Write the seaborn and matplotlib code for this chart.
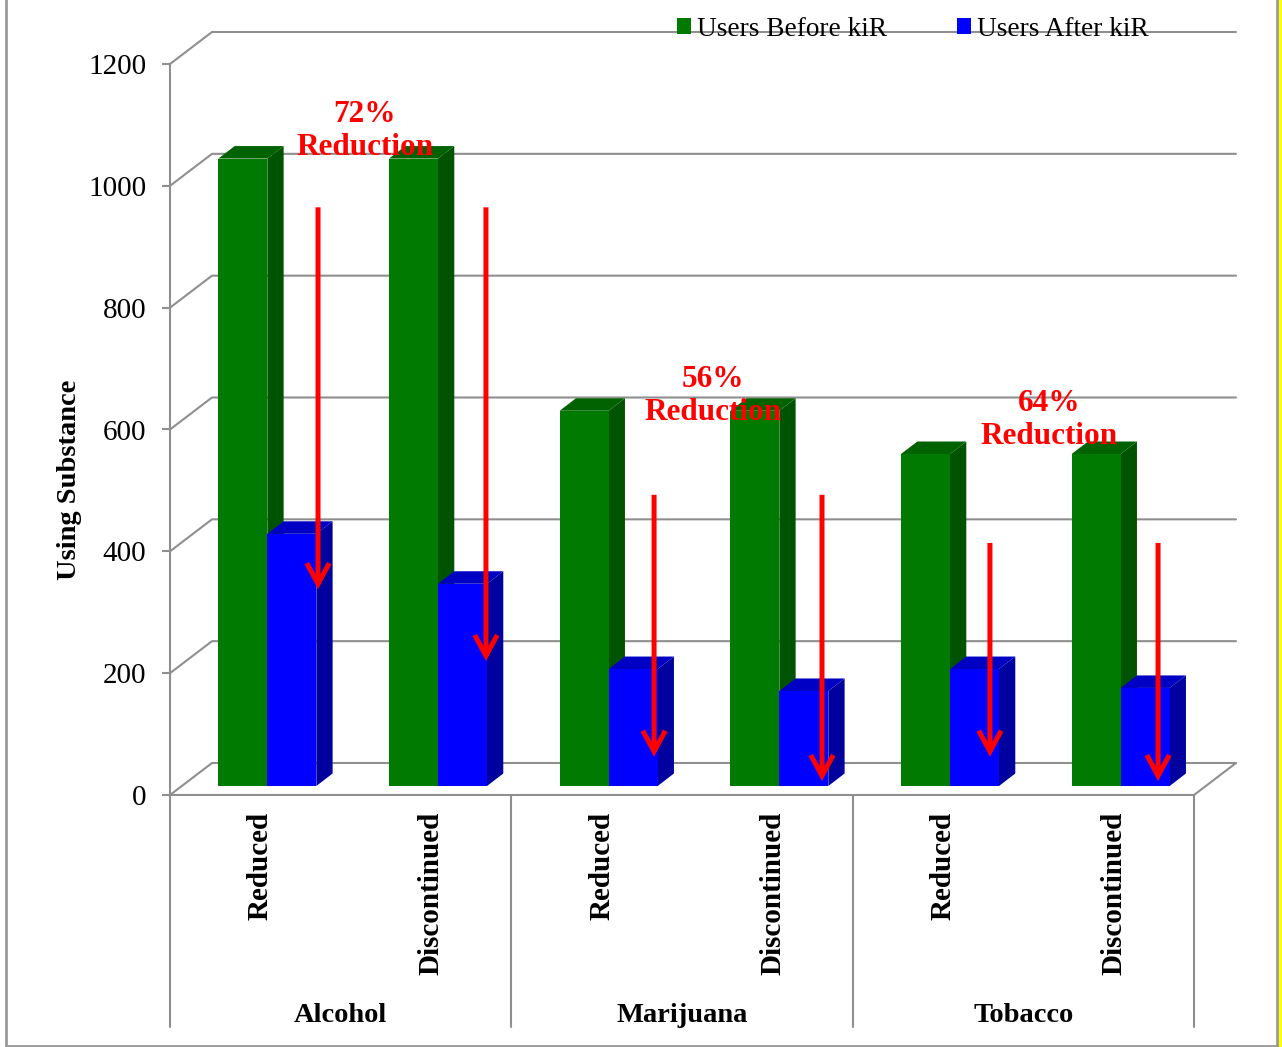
import pandas as pd
import matplotlib.pyplot as plt
import seaborn as sns
from matplotlib.lines import Line2D
from matplotlib.patches import Polygon, Rectangle

# values
substances = ['Alcohol', 'Marijuana', 'Tobacco']
outcomes = ['Reduced', 'Discontinued', 'Reduced', 'Discontinued', 'Reduced', 'Discontinued']
users_before = [1030, 1030, 616, 616, 545, 545]
users_after = [414, 332, 192, 156, 192, 161]
y_ticks = [0, 200, 400, 600, 800, 1000, 1200]

# red arrows and their labels
arrow_x = [0.297, 1.281, 2.266, 3.25, 4.234, 5.219]
arrow_start = [950, 950, 478, 478, 399, 399]
arrow_end = [323, 205, 48, 8, 48, 8]
note_text = ['72%\nReduction', '56%\nReduction', '64%\nReduction']
note_x = [0.572, 2.611, 4.58]
note_y = [1075, 640, 601]

W, H = 1282, 1047
GRID = '#8f8f8f'
SERIF = 'Liberation Serif'

sns.set_style('white')
plt.rcParams['font.family'] = SERIF
plt.rcParams['text.color'] = 'black'
plt.rcParams['axes.labelcolor'] = 'black'
plt.rcParams['xtick.labelcolor'] = 'black'
plt.rcParams['ytick.labelcolor'] = 'black'


def px_axes(left, top, right, bottom):
    return fig.add_axes([left / W, 1 - bottom / H, (right - left) / W, (bottom - top) / H])


keys = [f'{i} {o}' for i, o in enumerate(outcomes)]
df = pd.DataFrame({
    'key': keys * 2,
    'users': users_before + users_after,
    'series': ['Users Before kiR'] * 6 + ['Users After kiR'] * 6,
})

fig = plt.figure(figsize=(W / 100, H / 100), dpi=100)

# 1. wall and floor of the fake 3D box
ax = px_axes(170, 64, 1194, 795)
ax.set_xlim(-0.5, 5.5)
ax.set_ylim(0, 1200)
ax.patch.set_alpha(0)
for s in ['top', 'right']:
    ax.spines[s].set_visible(False)
for s in ['left', 'bottom']:
    ax.spines[s].set_color(GRID)
    ax.spines[s].set_linewidth(1.5)

deep_x = 42 / (1024 / 6)
deep_y = 32 / (731 / 1200)
for t in y_ticks:
    ax.plot([-0.5, -0.5 + deep_x, 5.5 + deep_x], [t, t + deep_y, t + deep_y],
            color=GRID, lw=1.5, clip_on=False, zorder=1)
ax.plot([5.5, 5.5 + deep_x], [0, deep_y], color=GRID, lw=1.5, clip_on=False, zorder=1)

ax.set_yticks(y_ticks)
ax.set_xticks([i + 0.03 for i in range(6)])
ax.set_xticklabels(outcomes, rotation=90, fontweight='bold', fontsize=21, va='top')
ax.tick_params(axis='y', length=6, width=1.5, color=GRID, labelsize=21, pad=11, left=True)
ax.tick_params(axis='x', length=0, pad=12)
ax.set_ylabel('Using Substance', fontsize=20.5, fontweight='bold')
ax.yaxis.set_label_coords((82 - 170) / 1024, (795 - 480) / 731)

# group separators and group names below the axis
xaxis_tr = ax.get_xaxis_transform()
for x in [-0.5, 1.5, 3.5, 5.5]:
    ax.plot([x, x], [0, -232 / 731], transform=xaxis_tr, color=GRID, lw=1.5, clip_on=False)
for i, name in enumerate(substances):
    ax.text(2 * i + 0.5, -220 / 731, name, transform=xaxis_tr, ha='center', va='center',
            fontsize=20.5, fontweight='bold')

# 2. bars, on their own axes because they stand in front of the wall
ax2 = px_axes(182, 55, 1206, 786)
sns.barplot(data=df, x='key', y='users', hue='series', order=keys, ax=ax2, width=0.574,
            gap=0, saturation=1, palette=['#007a00', '#0000ff'], linewidth=0)
ax2.set_xlim(-0.5, 5.5)
ax2.set_ylim(0, 1200)
ax2.axis('off')
ax2.patch.set_alpha(0)

side_x = 16.3 / (1024 / 6)
side_y = 12.5 / (731 / 1200)
faces = [('#005300', '#006200'), ('#00009f', '#0000c4')]
for n, (bars, (side, top)) in enumerate(zip(ax2.containers, faces)):
    for b in bars:
        x0, x1, h = b.get_x(), b.get_x() + b.get_width(), b.get_height()
        b.set_zorder(2.1 + n)
        ax2.add_patch(Polygon([(x1, 0), (x1 + side_x, side_y), (x1 + side_x, h + side_y), (x1, h)],
                              color=side, lw=0, zorder=2 + n))
        ax2.add_patch(Polygon([(x0, h), (x0 + side_x, h + side_y), (x1 + side_x, h + side_y), (x1, h)],
                              color=top, lw=0, zorder=2 + n))

# 3. arrows and notes
for x, a, b in zip(arrow_x, arrow_start, arrow_end):
    ax2.annotate('', xy=(x, b), xytext=(x, a), zorder=5,
                 arrowprops=dict(arrowstyle='->,head_length=0.5,head_width=0.27', color='#ff0000',
                                 lw=3.6, shrinkA=0, shrinkB=0, mutation_scale=30,
                                 capstyle='butt', joinstyle='miter'))
for x, y, s in zip(note_x, note_y, note_text):
    ax2.text(x, y, s, ha='center', va='center', color='#ff0000', fontsize=22.5,
             fontweight='bold', linespacing=1.15, zorder=6)

sns.move_legend(ax2, loc='center left', bbox_to_anchor=(677 / W, 1 - 29 / H),
                bbox_transform=fig.transFigure, ncol=2, title=None, frameon=False, fontsize=19.6,
                borderpad=0, borderaxespad=0, handlelength=0.5, handleheight=0.5,
                handletextpad=0.22, columnspacing=2.6)

# 4. outer border of the picture
border = dict(color='#9a9a9a', lw=2, transform=fig.transFigure)
fig.add_artist(Line2D([6 / W, 6 / W], [1, 1 - 1046 / H], **border))
fig.add_artist(Line2D([6 / W, 1277 / W], [1 - 1046 / H, 1 - 1046 / H], **border))
fig.add_artist(Line2D([1277 / W, 1277 / W], [1 - 1046 / H, 1], **border))
fig.add_artist(Rectangle((1279 / W, 0), 3 / W, 1, color='#ffff00', lw=0, transform=fig.transFigure))

plt.savefig('out.png', dpi=100)
